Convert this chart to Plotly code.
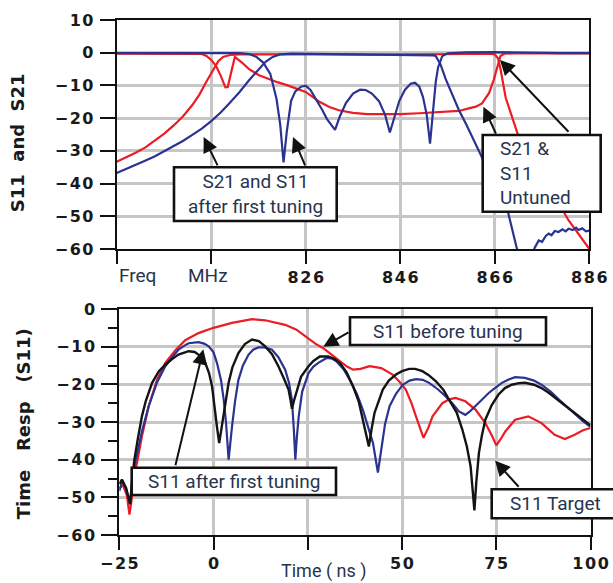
import plotly.graph_objects as go

W, H = 613, 583

RED = "#ec1c24"
BLUE = "#2b3391"
BLACK = "#141414"
GRID = "#c6c6c6"
NAVY = "#27344f"
CONDENSED = "Roboto, Liberation Sans, sans-serif"
WIDE = "DejaVu Sans, Verdana, sans-serif"
TS = "\u200a"  # hair space used to widen the tick digits like the original typeface

# ---------------- Top panel: S11 and S21 vs frequency (MHz) ----------------
s21_untuned_freq = [786, 788, 790, 792, 794, 796, 798, 800, 802, 803.5, 805, 806.5, 807.5, 808.5, 810,
                    812, 820, 830, 840, 850, 860, 865, 866, 866.7, 867.2, 868.3, 869.3, 870.4, 871,
                    873, 875, 877, 879, 880.6, 881.6, 883.7, 885.5, 886]
s21_untuned_db = [-33.3, -32.0, -30.6, -29.0, -27.0, -24.8, -22.3, -19.5, -16.0, -12.8, -8.8, -4.8, -2.6, -1.3, -0.7,
                  -0.5, -0.6, -0.5, -0.6, -0.6, -0.4, -0.3, -0.5, -1.8, -4.9, -13.7, -18.3, -23.5, -25.5,
                  -31.0, -36.5, -41.5, -45.5, -48.7, -51.2, -55.3, -59.0, -60.0]

s11_untuned_freq = [786, 795, 804, 805, 806, 807, 808, 809, 809.5, 810.3, 811, 812.5, 814, 816, 818, 820,
                    822, 824.7, 826, 828.9, 831, 833, 836, 839, 842, 846, 850, 853, 856, 858.4, 860.5,
                    862, 863.3, 864.8, 865.8, 866.5, 867.2, 868, 870, 878, 886]
s11_untuned_db = [-0.3, -0.3, -0.4, -1.0, -2.2, -4.0, -7.0, -10.6, -10.5, -5.5, -1.3, -3.0, -5.0, -6.8, -8.0, -9.0,
                  -9.9, -11.2, -12.0, -15.0, -16.6, -17.6, -18.4, -18.8, -18.9, -18.8, -18.5, -18.3, -18.0, -17.8, -17.0,
                  -16.5, -15.5, -12.3, -8.2, -4.2, -1.0, -0.3, -0.2, -0.2, -0.2]

s21_tuned_freq = [786, 788, 790, 792, 794, 796, 798, 800, 802, 804, 806, 808, 810, 812, 814, 816, 817.5,
                  819, 820.5, 823, 830, 840, 850, 852, 853, 853.5, 854.5, 855.6, 857, 858.4, 860, 861.5,
                  863, 865, 867, 868.8, 870.7, 872, 873, 874, 874.5, 875.3, 876, 876.8, 877.4, 878, 878.7,
                  879.5, 880.3, 881, 881.6, 882.5, 883.2, 883.7, 884.5, 885.3, 886]
s21_tuned_db = [-36.8, -35.6, -34.3, -33.0, -31.7, -30.2, -28.6, -27.0, -25.1, -23.2, -20.9, -18.3, -15.2, -12.0,
                -8.4, -5.0, -2.8, -1.3, -0.5, -0.3, -0.4, -0.5, -0.6, -0.6, -0.8, -1.0, -3.5, -8.0, -13.0, -17.5,
                -22.0, -26.5, -31.0, -37.0, -43.5, -48.7, -60.0, -65.0, -66.0, -61.0, -59.5, -57.4, -57.8, -56.0,
                -55.3, -55.8, -54.5, -54.8, -54.0, -54.6, -53.8, -54.2, -53.5, -54.2, -53.7, -54.6, -54.4]

s11_tuned_freq = [786, 800, 812, 814, 815.5, 817, 818.5, 819.8, 820.6, 821.3, 822, 822.9, 823.8, 825, 826,
                  827, 828.2, 829.5, 830.5, 832.2, 833.2, 834.5, 836, 837.5, 838.7, 840, 841.5, 842.8, 843.8,
                  844.8, 845.8, 847, 848.2, 849.1, 850, 850.8, 851.6, 852.3, 852.9, 853.5, 854, 854.9, 856,
                  860, 866, 872, 880, 886]
s11_tuned_db = [-0.1, -0.1, -0.1, -0.4, -1.2, -3.0, -6.5, -14.0, -22.0, -33.5, -24.0, -14.7, -11.8, -10.4, -10.1,
                -11.4, -14.2, -17.5, -20.3, -23.6, -19.5, -15.4, -12.5, -11.3, -11.4, -12.5, -14.8, -19.0, -24.4,
                -19.5, -14.7, -11.3, -9.5, -9.2, -10.3, -13.5, -19.0, -27.8, -19.0, -9.0, -4.5, -1.0, -0.2,
                0.1, 0.2, 0.0, -0.1, -0.1]

freq_tickvals = [786, 806, 826, 846, 866, 886]
freq_ticklabels = ["", "", "826", "846", "866", "886"]
db_top_tickvals = [-60, -50, -40, -30, -20, -10, 0, 10]
db_top_ticklabels = ["\u221260", "\u221250", "\u221240", "\u221230", "\u221220", "\u221210", "0", "10"]

# ---------------- Bottom panel: time response of S11 (ns) ----------------
before_t = [-25, -24, -23, -22.3, -21.6, -20.8, -19, -17.2, -15, -12.8, -10, -7.5, -4, 0, 4.9, 8, 10.2,
            13.7, 17, 19, 22, 24.3, 27, 29.1, 32.6, 35.3, 37, 39, 41.4, 44.5, 47.5, 49.5, 51, 52.5, 53.7,
            55.7, 57, 58.1, 60.7, 62.5, 64.2, 66.8, 69.5, 72.1, 73.8, 75, 76.2, 77.4, 80, 83.5, 87, 90.5,
            93.2, 95.8, 98, 100]
before_db = [-47.5, -46.8, -49.5, -54.6, -49.7, -43.5, -33.8, -25.8, -18.8, -14.3, -10.8, -8.3, -6.4, -5.0,
             -3.7, -3.0, -2.7, -3.0, -3.7, -4.2, -5.5, -7.3, -9.2, -10.4, -13.0, -15.2, -16.1, -15.9, -15.2,
             -15.7, -17.4, -19.5, -21.4, -25.0, -28.5, -34.2, -31.5, -28.5, -25.0, -24.0, -23.6, -24.5, -26.7,
             -30.3, -33.5, -36.2, -34.5, -32.5, -29.4, -28.5, -30.3, -33.4, -34.5, -33.4, -32.2, -31.6]

first_t = [-25, -24.2, -23.3, -22.2, -21.5, -20.8, -19, -17.2, -15, -12.8, -11, -9.3, -7.5, -6.6, -4, -2.5,
           -1.3, 0, 0.9, 2, 2.7, 3.3, 4, 4.4, 4.9, 5.7, 6.6, 7.8, 9.3, 10.5, 11.9, 13.5, 15.5, 17.2, 19, 20,
           20.8, 21.3, 21.7, 22.1, 22.6, 23.5, 25.2, 26.5, 27.8, 30, 31.5, 32.6, 34.5, 36.1, 38, 39.6, 41,
           42.3, 43.6, 44.1, 44.5, 45.5, 46.7, 48.4, 50.2, 52, 53.7, 55.5, 57.2, 59.5, 61.6, 63.5, 65.1,
           66.8, 68, 69.5, 71.3, 73, 74.8, 76.5, 78.3, 80, 82.6, 85, 87, 89.5, 91.7, 94, 96, 98, 100]
first_db = [-48.3, -45.8, -47.5, -51.5, -46.5, -40.9, -32.5, -25.8, -19.5, -15.2, -12.8, -10.8, -9.6, -9.1,
            -8.8, -9.2, -9.9, -11.5, -14.3, -19.0, -24.1, -30.0, -40.0, -35.0, -31.2, -24.5, -18.8, -15.0,
            -12.1, -10.8, -10.2, -10.2, -10.8, -12.8, -16.1, -19.5, -24.1, -32.0, -40.0, -34.0, -28.5, -22.0,
            -17.0, -15.3, -14.3, -13.0, -13.2, -13.9, -16.0, -18.8, -22.5, -26.7, -31.0, -35.6, -43.4, -40.0,
            -36.5, -30.5, -25.8, -22.5, -20.1, -19.0, -18.6, -18.8, -19.6, -21.3, -23.2, -25.2, -27.2, -28.1,
            -27.2, -25.8, -24.0, -22.3, -20.9, -19.6, -18.7, -18.1, -18.3, -19.0, -20.1, -22.0, -24.1, -26.2,
            -28.0, -29.8, -31.3]

target_t = [-25, -24.3, -23.2, -22.1, -21.6, -21, -20, -19, -18, -16.3, -14.5, -12.8, -11, -9.3, -6.6, -5,
            -4, -3, -2.2, -1.2, -0.4, 0.3, 0.9, 1.5, 2.0, 2.4, 3.2, 4, 5, 6.6, 8.3, 10.2, 12, 13.7, 15.5,
            17.2, 18.7, 19.9, 20.4, 20.8, 21.3, 21.9, 23.2, 25.2, 26.5, 28.2, 30.4, 32, 33.5, 35.3, 37,
            38.5, 39.6, 40.5, 41.2, 41.9, 42.7, 44.9, 46.5, 48.4, 50, 51.9, 53.5, 55.4, 57, 59, 61, 62.5,
            64.5, 66, 67.2, 68.2, 68.8, 69.2, 69.7, 70.4, 71.2, 72.1, 73.8, 75.6, 77.3, 79.1, 81, 82.6, 85,
            87, 89, 91.4, 93.5, 95.8, 98, 100]
target_db = [-46.5, -45.3, -47.5, -51.8, -45.3, -40.0, -34.0, -28.5, -24.5, -19.6, -16.5, -14.8, -13.3, -12.1,
             -11.2, -11.4, -12.1, -13.0, -14.3, -17.0, -20.5, -25.5, -31.2, -35.6, -32.5, -29.5, -24.0, -19.6,
             -15.5, -11.7, -9.3, -8.1, -8.5, -9.9, -12.0, -15.2, -18.5, -21.4, -24.0, -26.5, -24.5, -22.3,
             -18.0, -15.2, -13.8, -12.6, -12.6, -13.2, -14.3, -16.8, -20.5, -24.5, -29.4, -33.5, -36.5, -32.0,
             -27.6, -21.4, -19.0, -17.4, -16.5, -15.9, -15.9, -16.5, -17.5, -19.2, -21.5, -24.1, -27.5, -32.0,
             -36.5, -41.8, -48.0, -53.5, -46.0, -38.2, -33.5, -29.4, -25.5, -22.7, -21.0, -20.1, -19.7, -19.6,
             -20.1, -21.0, -22.3, -24.1, -25.8, -27.6, -29.3, -30.9]

time_tickvals = [-25, 0, 25, 50, 75, 100]
time_ticklabels = ["\u221225", "0", "", "50", "75", "100"]
db_bot_tickvals = [-60, -50, -40, -30, -20, -10, 0]
db_bot_ticklabels = ["\u221260", "\u221250", "\u221240", "\u221230", "\u221220", "\u221210", "0"]


def spaced(labels):
    return [TS.join(list(s)) for s in labels]


fig = go.Figure()
line_w = 2.2
fig.add_trace(go.Scatter(x=s21_untuned_freq, y=s21_untuned_db, mode="lines",
                         line=dict(color=RED, width=line_w), xaxis="x", yaxis="y"))
fig.add_trace(go.Scatter(x=s11_untuned_freq, y=s11_untuned_db, mode="lines",
                         line=dict(color=RED, width=line_w), xaxis="x", yaxis="y"))
fig.add_trace(go.Scatter(x=s21_tuned_freq, y=s21_tuned_db, mode="lines",
                         line=dict(color=BLUE, width=line_w), xaxis="x", yaxis="y"))
fig.add_trace(go.Scatter(x=s11_tuned_freq, y=s11_tuned_db, mode="lines",
                         line=dict(color=BLUE, width=line_w), xaxis="x", yaxis="y"))

fig.add_trace(go.Scatter(x=before_t, y=before_db, mode="lines",
                         line=dict(color=RED, width=line_w), xaxis="x2", yaxis="y2"))
fig.add_trace(go.Scatter(x=first_t, y=first_db, mode="lines",
                         line=dict(color=BLUE, width=line_w), xaxis="x2", yaxis="y2"))
fig.add_trace(go.Scatter(x=target_t, y=target_db, mode="lines",
                         line=dict(color=BLACK, width=2.4), xaxis="x2", yaxis="y2"))

tick_font = dict(family=WIDE, size=16, color="#1a1a1a", weight="bold")
common = dict(showline=True, linecolor="#111", linewidth=2, mirror=True, showgrid=True,
              gridcolor=GRID, gridwidth=2.5, zeroline=False, ticks="outside", tickcolor="#111",
              tickwidth=2, tickfont=tick_font, automargin=False, tickmode="array")

fig.update_layout(
    width=W, height=H, margin=dict(l=0, r=0, t=0, b=0),
    paper_bgcolor="white", plot_bgcolor="white", showlegend=False,
    xaxis=dict(domain=[116.7 / W, 589.3 / W], range=[786, 886], anchor="y",
               tickvals=freq_tickvals, ticktext=spaced(freq_ticklabels), ticklen=13, **common),
    yaxis=dict(domain=[1 - 249 / H, 1 - 20 / H], range=[-60, 10], anchor="x",
               tickvals=db_top_tickvals, ticktext=spaced(db_top_ticklabels), ticklen=15,
               ticklabelstandoff=3, **common),
    xaxis2=dict(domain=[119.3 / W, 590.5 / W], range=[-25, 100], anchor="y2",
                tickvals=time_tickvals, ticktext=spaced(time_ticklabels), ticklen=13, **common),
    yaxis2=dict(domain=[1 - 535 / H, 1 - 309 / H], range=[-60, 0], anchor="x2",
                tickvals=db_bot_tickvals, ticktext=spaced(db_bot_ticklabels), ticklen=16,
                ticklabelstandoff=3,
                minor=dict(ticks="outside", ticklen=9, tickwidth=2, tickcolor="#111", dtick=5,
                           showgrid=False, tickmode="linear", tick0=0),
                **common),
)


def P(px, py):
    return px / W, 1 - py / H


shapes = []
annotations = []


def box(x0, y0, x1, y1):
    a0, b0 = P(x0, y0)
    a1, b1 = P(x1, y1)
    shapes.append(dict(type="rect", xref="paper", yref="paper", x0=a0, y0=b1, x1=a1, y1=b0,
                       line=dict(color="#111", width=2.6), fillcolor="white", layer="above"))


def text(s, px, py, anchor="center", size=19):
    a, b = P(px, py)
    annotations.append(dict(text=s, xref="paper", yref="paper", x=a, y=b, xanchor=anchor,
                            yanchor="middle", showarrow=False, align="left" if anchor == "left" else "center",
                            font=dict(family=CONDENSED, size=size, color=NAVY)))


def arrow(xr, yr, tip, tail):
    annotations.append(dict(text="", xref=xr, yref=yr, axref=xr, ayref=yr, x=tip[0], y=tip[1],
                            ax=tail[0], ay=tail[1], showarrow=True, arrowhead=2, arrowsize=1.5,
                            arrowwidth=2, arrowcolor="#111", standoff=0, startstandoff=0))


# Top panel boxes and arrows
box(174, 167.3, 336.7, 221)
text("S21 and S11<br>after first tuning", 255.3, 194.2)
box(482.7, 135, 600.7, 211.7)
text("S21 &<br>S11<br>Untuned", 498, 173.3, anchor="left")
arrow("x", "y", (804.4, -25.8), (807.5, -34.9))
arrow("x", "y", (823.3, -25.8), (826.0, -34.9))
arrow("x", "y", (863.6, -16.5), (866.4, -25.2))
arrow("x", "y", (867.1, -2.2), (881.9, -24.6))

# Bottom panel boxes and arrows
box(131.7, 467.7, 336, 495)
text("S11 after first tuning", 233.9, 481.4)
box(350, 317.3, 546, 345)
text("S11 before tuning", 448, 331.2)
box(491.7, 489.3, 625, 518.3)
text("S11 Target", 508, 503.8, anchor="left")
arrow("x2", "y2", (-2.7, -10.7), (-10.2, -41.9))
arrow("x2", "y2", (29.1, -10.0), (36.2, -6.0))
arrow("x2", "y2", (74.7, -40.3), (81.3, -47.6))

# Axis labels
text("Freq", 117, 275, anchor="left")
text("MHz", 208, 275)
text("Time ( ns )", 324, 571, size=18)

NB = "\u00a0"
for s, px, py in [("S11" + NB * 2 + "and" + NB * 2 + "S21", 18.3, 143),
                  ("Time" + NB * 3 + "Resp" + NB * 3 + "(S11)", 23.3, 424)]:
    a, b = P(px, py)
    annotations.append(dict(text=s, xref="paper", yref="paper", x=a, y=b, xanchor="center",
                            yanchor="middle", showarrow=False, textangle=-90,
                            font=dict(family=WIDE, size=18, color="#1a1a1a", weight="bold")))

fig.update_layout(shapes=shapes, annotations=annotations)
fig.write_html("out.html", config={"displayModeBar": False},
               post_script="document.body.style.margin='0px';document.body.style.overflow='hidden';")
